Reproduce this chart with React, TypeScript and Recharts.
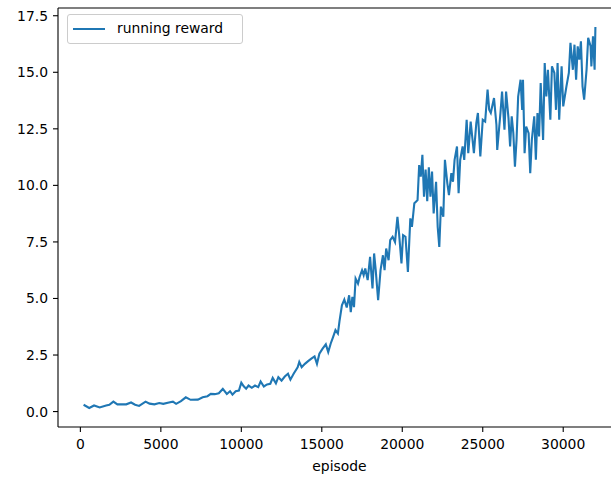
import React from 'react';
import { LineChart, Line, XAxis, YAxis, ReferenceLine } from 'recharts';

// running reward logged during training, sampled along the run
const EPISODES = [
  200, 550, 850, 1200, 1600, 1800, 2050, 2300, 2850, 3150, 3400, 3650, 4050, 4300, 4600,
  4900, 5150, 5500, 5750, 5950, 6250, 6550, 6850, 7300, 7600, 7900, 8100, 8350, 8600,
  8850, 9100, 9300, 9450, 9650, 9850, 10000, 10150, 10300, 10450, 10650, 10850, 11050,
  11200, 11400, 11600, 11800, 11950, 12150, 12300, 12500, 12700, 12900, 13050, 13250,
  13500, 13600, 13750, 13950, 14150, 14350, 14550, 14700, 14850, 15050, 15250, 15400,
  15550, 15700, 15850, 16000, 16100, 16250, 16400, 16550, 16700, 16800, 16900, 17000,
  17100, 17250, 17350, 17500, 17600, 17700, 17850, 18000, 18150, 18250, 18350, 18500,
  18650, 18800, 18900, 19000, 19150, 19250, 19400, 19550, 19700, 19800, 19950, 20050,
  20200, 20350, 20500, 20600, 20750, 20850, 20950, 21050, 21150, 21250, 21350, 21450,
  21550, 21650, 21750, 21850, 21950, 22100, 22200, 22300, 22400, 22550, 22650, 22800,
  22900, 23050, 23150, 23250, 23400, 23500, 23600, 23750, 23850, 24000, 24100, 24250,
  24450, 24600, 24700, 24850, 25000, 25150, 25300, 25400, 25500, 25700, 25850, 25900,
  26100, 26200, 26350, 26450, 26600, 26700, 26800, 26900, 27000, 27100, 27200, 27350,
  27450, 27500, 27600, 27700, 27850, 27950, 28050, 28200, 28300, 28400, 28500, 28600,
  28750, 28850, 28950, 29050, 29200, 29300, 29450, 29550, 29650, 29750, 29900, 30000,
  30200, 30350, 30450, 30600, 30700, 30800, 30900, 31000, 31100, 31200, 31300, 31450,
  31550, 31700, 31750, 31850, 31950, 32000,
];

const REWARDS = [
  0.3, 0.16, 0.27, 0.18, 0.27, 0.3, 0.44, 0.32, 0.32, 0.4, 0.3, 0.25, 0.44, 0.35, 0.32,
  0.38, 0.34, 0.4, 0.44, 0.34, 0.46, 0.63, 0.52, 0.53, 0.63, 0.68, 0.78, 0.77, 0.81,
  1.0, 0.78, 0.9, 0.75, 0.9, 0.93, 1.28, 1.12, 1.01, 1.15, 1.05, 1.15, 1.08,
  1.33, 1.11, 1.2, 1.23, 1.49, 1.25, 1.52, 1.37, 1.55, 1.67, 1.41, 1.67,
  1.96, 2.19, 1.96, 2.11, 2.23, 2.34, 2.44, 2.11, 2.56, 2.78, 2.97, 2.63,
  3.0, 3.29, 3.6, 3.45, 4.0, 4.7, 4.95, 4.6, 5.14, 4.4, 5.07, 4.62,
  5.88, 5.66, 5.95, 6.25, 6.03, 6.33, 5.81, 6.84, 5.44, 6.99, 6.25, 4.92,
  6.25, 6.91, 6.25, 7.21, 6.69, 7.58, 7.73, 7.5, 8.61, 7.88, 6.55, 7.8,
  7.73, 6.17, 8.54, 8.17, 9.21, 9.28, 9.35, 10.9, 10.39, 11.35, 9.5, 10.7,
  9.3, 10.8, 9.5, 10.61, 8.76, 10.16, 8.17, 7.28, 9.06, 8.61, 11.13, 10.09,
  9.57, 10.54, 10.16, 11.13, 11.72, 9.65, 11.13, 11.72, 11.13, 12.9, 11.42, 12.82,
  11.42, 12.75, 13.2, 11.28, 12.9, 12.82, 14.23, 13.34, 13.2, 13.86, 12.68, 11.57,
  13.2, 14.15, 12.46, 14.15, 12.97, 11.72, 13.05, 12.31, 10.83, 12.01, 13.93, 14.67,
  13.34, 14.67, 11.42, 12.6, 12.31, 10.54, 12.01, 13.05, 11.13, 13.2, 12.16, 14.52,
  12.01, 15.41, 13.93, 15.11, 12.9, 15.26, 14.97, 13.34, 15.41, 12.9, 15.26, 13.49,
  14.38, 14.97, 16.3, 15.11, 16.22, 14.67, 16.15, 15.56, 16.37, 14.38, 13.79, 15.11,
  16.52, 16.15, 15.26, 16.59, 15.11, 17.0,
];

const X_TICKS = [0, 5000, 10000, 15000, 20000, 25000, 30000];
const Y_TICKS = [0, 2.5, 5, 7.5, 10, 12.5, 15, 17.5];

const data = EPISODES.map((episode, i) => ({ episode, reward: REWARDS[i] }));

// matplotlib-like autoscale: 5% padding on both sides of the data range
const pad = (lo: number, hi: number): [number, number] => {
  const m = (hi - lo) * 0.05;
  return [lo - m, hi + m];
};
const xDomain = pad(Math.min(...EPISODES), Math.max(...EPISODES));
const yDomain = pad(Math.min(...REWARDS), Math.max(...REWARDS));

const BLUE = '#1f77b4';
const FONT = '"DejaVu Sans", sans-serif';
const tickStyle = { fill: '#000', fontSize: 13.9, fontFamily: FONT };
const spine = { stroke: '#000', strokeWidth: 1.1 };

function RewardLegend() {
  return (
    <div
      style={{
        position: 'absolute',
        left: 67,
        top: 14,
        width: 176,
        height: 30,
        boxSizing: 'border-box',
        border: '1px solid #cccccc',
        borderRadius: 3,
        background: 'rgba(255,255,255,0.8)',
        fontFamily: FONT,
        fontSize: 13.9,
        color: '#000',
      }}
    >
      <div
        style={{
          position: 'absolute',
          left: 5,
          top: 13,
          width: 32,
          height: 2,
          background: BLUE,
        }}
      />
      <span style={{ position: 'absolute', left: 49, top: 5, whiteSpace: 'nowrap', lineHeight: '17px' }}>
        running reward
      </span>
    </div>
  );
}

export default function App() {
  return (
    <div
      style={{
        position: 'fixed',
        left: 0,
        top: 0,
        width: 611,
        height: 478,
        overflow: 'hidden',
        background: '#fff',
      }}
    >
      <LineChart width={640} height={478} data={data} margin={{ top: 8, right: 19, bottom: 0, left: 0 }}>
        <XAxis
          dataKey="episode"
          type="number"
          domain={xDomain}
          allowDataOverflow
          ticks={X_TICKS}
          interval={0}
          height={51}
          tick={tickStyle}
          tickSize={5}
          tickMargin={7}
          tickLine={spine}
          axisLine={spine}
          label={{
            value: 'episode',
            position: 'insideBottom',
            offset: 7,
            style: { fill: '#000', fontSize: 13.9, fontFamily: FONT },
          }}
        />
        <YAxis
          type="number"
          domain={yDomain}
          allowDataOverflow
          ticks={Y_TICKS}
          interval={0}
          width={58}
          tick={tickStyle}
          tickFormatter={(v: number) => v.toFixed(1)}
          tickSize={5}
          tickMargin={5}
          tickLine={spine}
          axisLine={spine}
        />
        {/* top spine of the axes frame */}
        <ReferenceLine y={yDomain[1]} stroke="#000" strokeWidth={1.1} ifOverflow="visible" />
        <Line
          type="linear"
          dataKey="reward"
          stroke={BLUE}
          strokeWidth={2.1}
          dot={false}
          activeDot={false}
          isAnimationActive={false}
        />
      </LineChart>
      <RewardLegend />
    </div>
  );
}
